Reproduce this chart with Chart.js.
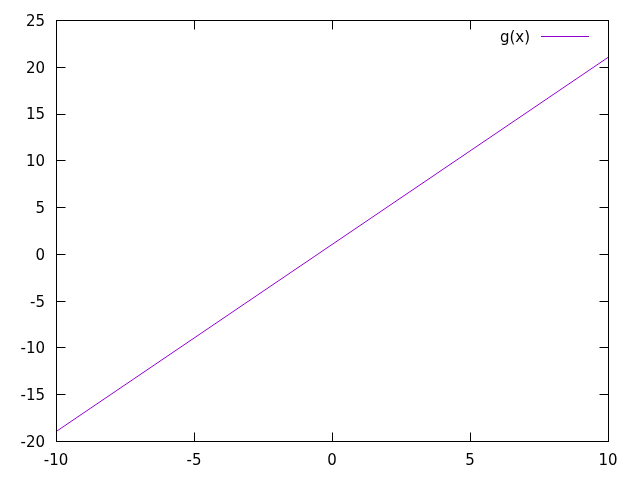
<!DOCTYPE html>
<html><head><meta charset="utf-8">
<script src="https://cdn.jsdelivr.net/npm/chart.js@4/dist/chart.umd.min.js"></script>
<style>html,body{margin:0;padding:0;background:#fff}#wrap{width:640px;height:480px}</style>
</head><body><div id="wrap"><canvas id="c" width="640" height="480"></canvas></div>
<script>
const seriesName = "g(x)";
const xValues = [-10, -5, 0, 5, 10];
const yValues = [-19, -9, 1, 11, 21];
const xTicks = [-10, -5, 0, 5, 10];
const yTicks = [-20, -15, -10, -5, 0, 5, 10, 15, 20, 25];
const lineColor = "#9400d3";
const FONT = "'DejaVu Sans', sans-serif";

const frame = {
  id: 'frame',
  afterDraw(chart) {
    const {ctx, chartArea: a, scales: {x, y}} = chart;
    ctx.save();
    ctx.strokeStyle = '#000'; ctx.lineWidth = 1;
    const L = Math.round(a.left)+0.5, R = Math.round(a.right)+0.5, T = Math.round(a.top)+0.5, B = Math.round(a.bottom)+0.5;
    ctx.beginPath();
    xTicks.forEach(v => { const p = Math.round(x.getPixelForValue(v))+0.5;
      ctx.moveTo(p, B); ctx.lineTo(p, B-9); ctx.moveTo(p, T); ctx.lineTo(p, T+9); });
    yTicks.forEach(v => { const p = Math.round(y.getPixelForValue(v))+0.5;
      ctx.moveTo(L, p); ctx.lineTo(L+9, p); ctx.moveTo(R, p); ctx.lineTo(R-9, p); });
    ctx.stroke();
    ctx.strokeRect(L, T, R-L, B-T);
    // legend
    ctx.font = '15px ' + FONT; ctx.fillStyle = '#000';
    ctx.textAlign = 'right'; ctx.textBaseline = 'middle';
    ctx.fillText(seriesName, 530, 38);
    ctx.strokeStyle = lineColor; ctx.beginPath(); ctx.moveTo(541, 36.5); ctx.lineTo(589, 36.5); ctx.stroke();
    ctx.restore();
  }
};

new Chart(document.getElementById('c'), {
  type: 'line',
  data: { datasets: [{ label: seriesName, data: xValues.map((v,i)=>({x:v, y:yValues[i]})),
    borderColor: lineColor, borderWidth: 1, pointRadius: 0, tension: 0, fill: false }] },
  options: {
    responsive: false, animation: false, devicePixelRatio: 1,
    layout: { padding: { top: 19, right: 32, left: 0, bottom: 0 } },
    plugins: { legend: { display: false }, tooltip: { enabled: false } },
    scales: {
      x: { type: 'linear', min: -10, max: 10,
        afterFit(s){ s.height = 39; },
        afterBuildTicks(s){ s.ticks = xTicks.map(v=>({value:v})); },
        grid: { display: false, drawTicks: false }, border: { display: false },
        ticks: { padding: 11, color: '#000', font: { family: FONT, size: 15 } } },
      y: { type: 'linear', min: -20, max: 25,
        afterFit(s){ s.width = 56; },
        afterBuildTicks(s){ s.ticks = yTicks.map(v=>({value:v})); },
        grid: { display: false, drawTicks: false }, border: { display: false },
        ticks: { padding: 11, labelOffset: 2, color: '#000', font: { family: FONT, size: 15 } } }
    }
  },
  plugins: [frame]
});
</script></body></html>
